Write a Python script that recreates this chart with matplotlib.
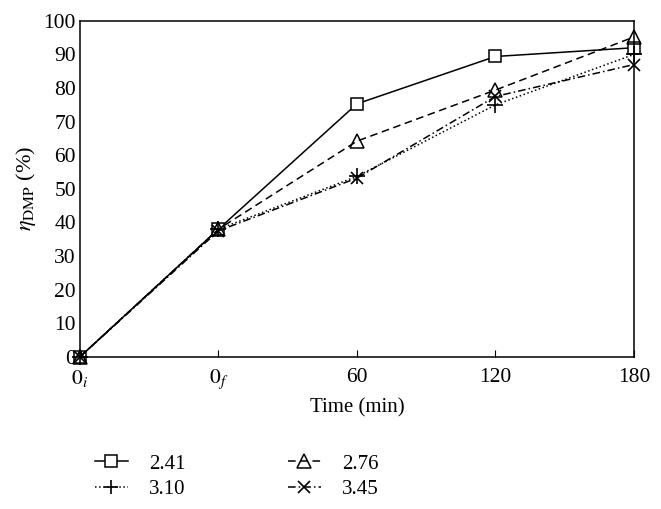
import numpy as np
import matplotlib.pyplot as plt

plt.rcParams['font.family'] = ['Liberation Serif', 'DejaVu Serif']
plt.rcParams['mathtext.fontset'] = 'stix'

# time points (categorical positions)
x_labels = ['$0_i$', '$0_f$', '60', '120', '180']
x_pos = np.arange(len(x_labels))

# DMP removal efficiency (%) for each series
eta_241 = [0, 38, 75.3, 89.4, 92.0]
eta_276 = [0, 38, 64.2, 79.4, 95.2]
eta_310 = [0, 38, 53.7, 75.0, 90.0]
eta_345 = [0, 37.5, 53.2, 77.5, 87.0]

fig = plt.figure(figsize=(6.61, 5.09), dpi=100)
ax = fig.add_axes([0.121, 0.299, 0.838, 0.660])

l1, = ax.plot(x_pos, eta_241, '-', color='black', lw=1.1, marker='s',
              ms=9, mfc='white', mec='black', mew=1.1, label='2.41', clip_on=False)
l2, = ax.plot(x_pos, eta_276, '--', color='black', lw=1.1, marker='^',
              ms=10, mfc='none', mec='black', mew=1.1, label='2.76', dashes=(5, 3),
              clip_on=False)
l3, = ax.plot(x_pos, eta_310, ':', color='black', lw=1.1, marker='+',
              ms=11, mew=1.2, label='3.10', clip_on=False)
l4, = ax.plot(x_pos, eta_345, '-.', color='black', lw=1.1, marker='x',
              ms=9, mew=1.2, label='3.45', dashes=(5, 2, 1, 2), clip_on=False)

ax.set_xlim(0, 4)
ax.set_ylim(0, 100)
ax.set_xticks(x_pos)
ax.set_xticklabels(x_labels)
ax.set_yticks(np.arange(0, 101, 10))
ax.tick_params(direction='in', labelsize=15.5, length=5)
ax.tick_params(axis='x', pad=8)
ax.tick_params(axis='y', length=0, pad=3)
ax.set_xlabel('Time (min)', fontsize=15, labelpad=5)
ax.set_ylabel(r'$\eta_{\mathrm{DMP}}$ (%)', fontsize=16)
for s in ax.spines.values():
    s.set_linewidth(1.1)

fig.legend([l1, l3, l2, l4], ['2.41', '3.10', '2.76', '3.45'], ncol=2,
           frameon=False, loc='upper left', bbox_to_anchor=(0.115, 0.145),
           fontsize=15, handlelength=1.6, columnspacing=4.9,
           labelspacing=0.3, handletextpad=1.0, markerscale=0.95)

fig.savefig('out.png', dpi=100)
